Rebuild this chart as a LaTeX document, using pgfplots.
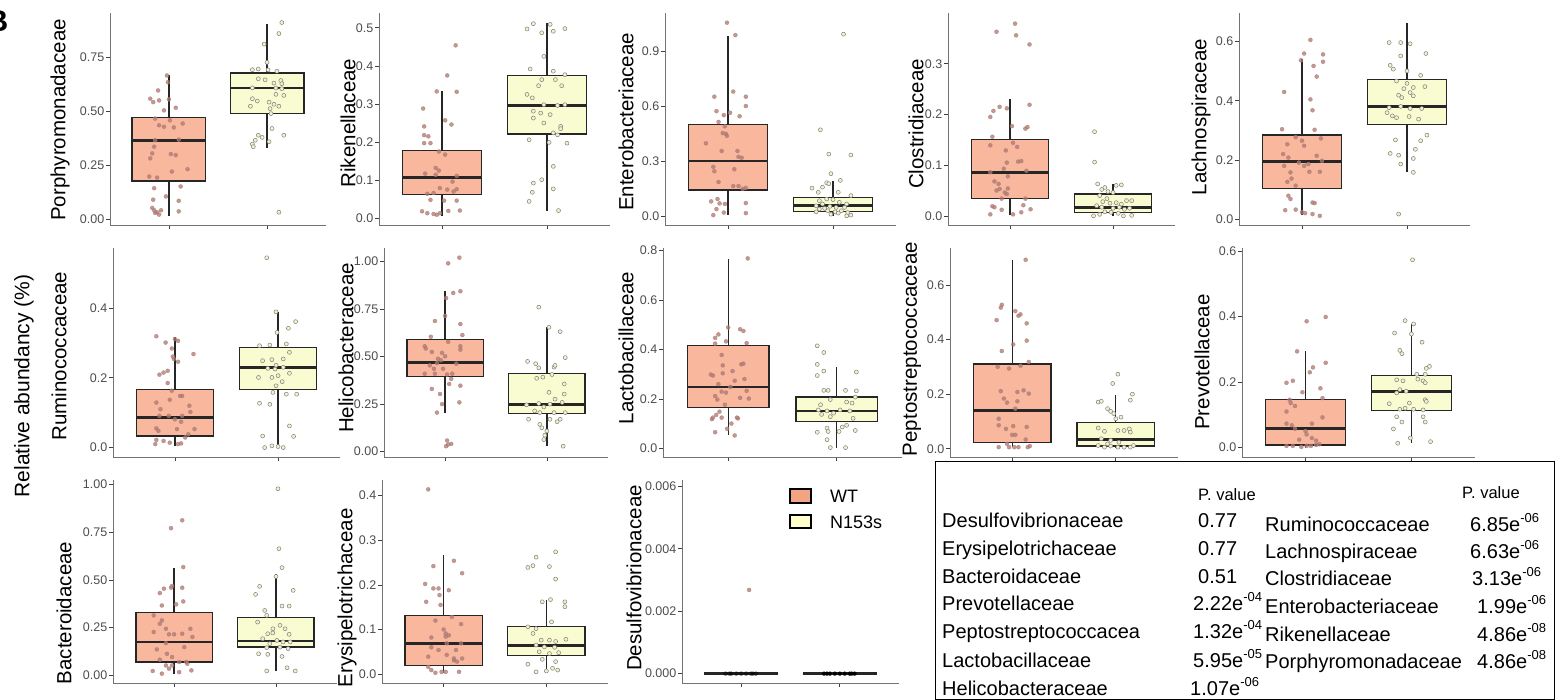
\documentclass[border=0pt]{standalone}
\usepackage{fontspec}
\setmainfont{Liberation Sans}
\usepackage{pgfplots}
\pgfplotsset{compat=1.18}
\usepgfplotslibrary{statistics}
\definecolor{wtbox}{RGB}{249,183,158}
\definecolor{nbox}{RGB}{249,251,208}
\definecolor{wtkey}{RGB}{243,164,133}
\definecolor{nkey}{RGB}{255,255,204}
\definecolor{wtpt}{RGB}{196,110,98}
\definecolor{npt}{RGB}{242,242,205}
\definecolor{ticklab}{RGB}{77,77,77}
\newcommand{\lf}{\fontsize{20.5}{24}\selectfont}
\newcommand{\tf}{\fontsize{20}{23}\selectfont}
\newcommand{\sx}[1]{\raisebox{0.45em}{\fontsize{13}{14}\selectfont #1}}
\pgfplotsset{
  panel/.style={
    scale only axis, anchor=south west,
    axis lines*=left,
    axis line style={black!55, line width=0.7pt},
    xmin=0.4, xmax=2.6,
    xtick={1,2}, xticklabels={,,},
    tick align=outside, major tick length=4pt,
    tick style={black!75, line width=0.7pt},
    scaled y ticks=false,
    /pgf/number format/assume math mode=true,
    yticklabel style={font=\fontsize{12.5}{14}\selectfont, text=ticklab, inner sep=1.5pt},
    clip=false,
    boxplot/draw direction=y,
    boxplot/box extend=0.75,
    boxplot/whisker extend=0,
    boxplot/every median/.style={line width=2.8pt},
  },
  prec/.style={yticklabel={\pgfmathprintnumber[fixed,fixed zerofill,precision=#1]{\tick}}},
  wtb/.style={fill=wtbox, draw=black!85, line width=1.3pt},
  nb/.style={fill=nbox, draw=black!85, line width=1.3pt},
  wtp/.style={only marks, mark=*, mark size=2pt, mark options={fill=wtpt, fill opacity=0.75, draw=black!45, draw opacity=0.8, line width=0.4pt}},
  np/.style={only marks, mark=*, mark size=2pt, mark options={fill=npt, draw=black!50, line width=0.5pt}},
}
\newcommand{\wtbx}[5]{\addplot[wtb, boxplot prepared={draw position=1, lower whisker=#1, lower quartile=#2, median=#3, upper quartile=#4, upper whisker=#5}] coordinates {};}
\newcommand{\nbx}[5]{\addplot[nb, boxplot prepared={draw position=2, lower whisker=#1, lower quartile=#2, median=#3, upper quartile=#4, upper whisker=#5}] coordinates {};}
\begin{document}
\begin{tikzpicture}
\useasboundingbox (0,0) rectangle (1555pt,-700pt);
% ---------------- Row 1
\begin{axis}[panel, at={(110pt,-225pt)}, width=216pt, height=212pt, ymin=-0.025, ymax=0.955, ytick={0,0.25,0.5,0.75}, prec=2]
\wtbx{0.018}{0.179}{0.367}{0.471}{0.670}
\nbx{0.329}{0.490}{0.608}{0.677}{0.906}
\addplot[wtp] coordinates {(0.98,0.666)(0.99,0.635)(0.89,0.597)(0.81,0.559)(0.84,0.543)(0.90,0.551)(1.00,0.556)(1.07,0.517)(0.95,0.505)(0.86,0.467)(1.01,0.459)(0.90,0.436)(0.95,0.429)(1.05,0.426)(1.14,0.444)(0.86,0.367)(1.10,0.370)(0.85,0.337)(0.83,0.306)(0.81,0.283)(1.02,0.303)(1.07,0.298)(1.19,0.233)(1.03,0.222)(0.80,0.199)(0.88,0.194)(1.12,0.153)(0.85,0.145)(1.10,0.087)(0.84,0.092)(0.97,0.107)(0.83,0.054)(0.85,0.043)(0.88,0.034)(0.92,0.043)(0.90,0.023)(1.10,0.038)(0.86,0.031)};
\addplot[np] coordinates {(2.15,0.911)(2.12,0.860)(1.97,0.811)(2.00,0.727)(1.91,0.696)(1.85,0.693)(2.01,0.692)(2.10,0.686)(1.91,0.651)(1.98,0.646)(2.14,0.643)(2.07,0.631)(2.15,0.628)(2.09,0.608)(2.15,0.605)(1.85,0.609)(2.17,0.574)(2.09,0.579)(1.85,0.559)(1.90,0.548)(2.02,0.543)(2.07,0.533)(2.12,0.524)(1.83,0.524)(2.03,0.513)(2.04,0.490)(2.05,0.421)(2.17,0.390)(1.91,0.390)(1.95,0.380)(1.88,0.367)(1.85,0.349)(1.86,0.337)(2.02,0.360)(2.12,0.034)};
\end{axis}
\begin{axis}[panel, at={(379pt,-225pt)}, width=231pt, height=212pt, ymin=-0.018, ymax=0.539, ytick={0,0.1,0.2,0.3,0.4,0.5}, prec=1]
\wtbx{0.006}{0.063}{0.107}{0.178}{0.333}
\nbx{0.018}{0.221}{0.296}{0.375}{0.513}
\addplot[wtp] coordinates {(1.13,0.454)(1.05,0.375)(0.95,0.333)(1.14,0.332)(0.82,0.288)(1.03,0.257)(1.09,0.246)(0.83,0.241)(0.83,0.218)(0.87,0.215)(0.83,0.197)(0.89,0.197)(0.97,0.175)(1.03,0.167)(0.94,0.132)(0.97,0.125)(0.84,0.117)(0.94,0.114)(1.14,0.111)(1.10,0.096)(0.98,0.079)(1.05,0.075)(1.14,0.076)(1.11,0.070)(0.86,0.064)(0.92,0.066)(0.89,0.048)(1.02,0.046)(1.14,0.046)(0.81,0.018)(0.86,0.013)(0.92,0.011)(0.98,0.013)(1.06,0.019)(1.17,0.020)(0.95,0.009)};
\addplot[np] coordinates {(1.81,0.497)(1.87,0.511)(1.95,0.487)(2.03,0.509)(2.06,0.491)(2.17,0.498)(1.97,0.425)(1.84,0.392)(2.06,0.386)(2.17,0.377)(1.95,0.364)(2.08,0.364)(1.92,0.348)(2.14,0.348)(1.81,0.325)(1.86,0.316)(1.97,0.298)(2.10,0.296)(2.17,0.298)(1.87,0.281)(1.94,0.276)(2.03,0.272)(1.87,0.263)(1.97,0.250)(2.13,0.241)(2.13,0.235)(2.06,0.224)(1.83,0.206)(2.02,0.199)(2.19,0.197)(2.10,0.219)(2.06,0.136)(1.95,0.101)(1.87,0.092)(2.06,0.077)(1.86,0.068)(1.83,0.044)(2.11,0.020)};
\end{axis}
\begin{axis}[panel, at={(665pt,-225pt)}, width=231pt, height=212pt, ymin=-0.05, ymax=1.11, ytick={0,0.3,0.6,0.9}, prec=1]
\wtbx{0.004}{0.142}{0.300}{0.499}{0.983}
\nbx{0.000}{0.024}{0.055}{0.100}{0.189}
\addplot[wtp] coordinates {(0.99,1.057)(1.07,0.989)(1.05,0.680)(0.87,0.652)(1.17,0.652)(1.17,0.601)(0.89,0.573)(1.02,0.564)(0.96,0.551)(1.11,0.545)(0.91,0.514)(0.97,0.490)(0.95,0.453)(0.98,0.449)(0.99,0.438)(0.79,0.397)(0.94,0.355)(1.09,0.355)(1.10,0.323)(1.13,0.318)(0.86,0.268)(0.87,0.244)(1.06,0.255)(0.91,0.185)(1.05,0.163)(1.10,0.163)(1.14,0.148)(1.17,0.153)(0.84,0.079)(0.90,0.092)(0.92,0.068)(0.97,0.065)(1.17,0.070)(0.89,0.037)(0.96,0.018)(0.86,0.004)(1.17,0.015)};
\addplot[np] coordinates {(2.10,0.994)(1.88,0.471)(1.96,0.338)(2.17,0.333)(1.98,0.231)(1.94,0.181)(2.07,0.194)(1.90,0.157)(1.80,0.152)(1.96,0.176)(2.05,0.129)(1.86,0.129)(2.17,0.111)(1.87,0.083)(1.94,0.092)(2.00,0.089)(2.06,0.074)(2.13,0.065)(1.84,0.055)(1.90,0.065)(1.97,0.052)(2.03,0.046)(2.11,0.046)(1.87,0.037)(1.95,0.028)(2.02,0.022)(2.08,0.028)(2.14,0.018)(2.17,0.004)(1.84,0.022)(1.98,0.009)(2.05,0.015)(2.13,0.000)(1.92,0.041)};
\end{axis}
\begin{axis}[panel, at={(948pt,-225pt)}, width=227pt, height=212pt, ymin=-0.018, ymax=0.40, ytick={0,0.1,0.2,0.3}, prec=1]
\wtbx{0.001}{0.034}{0.086}{0.150}{0.230}
\nbx{0.000}{0.007}{0.017}{0.043}{0.063}
\addplot[wtp] coordinates {(1.05,0.379)(0.87,0.363)(1.06,0.356)(1.19,0.338)(1.19,0.219)(0.90,0.215)(0.97,0.212)(0.84,0.207)(0.81,0.195)(1.02,0.177)(1.17,0.175)(1.15,0.172)(0.83,0.156)(0.81,0.139)(1.03,0.144)(1.07,0.136)(0.96,0.129)(1.08,0.107)(1.11,0.108)(0.97,0.105)(1.16,0.089)(0.94,0.093)(0.81,0.086)(0.98,0.078)(0.85,0.068)(0.89,0.063)(0.90,0.053)(0.98,0.054)(0.87,0.050)(0.95,0.046)(0.97,0.043)(0.92,0.034)(1.15,0.034)(0.83,0.019)(0.85,0.017)(1.13,0.021)(1.20,0.013)(0.92,0.012)(0.81,0.003)(1.03,0.003)(1.11,0.007)};
\addplot[np] coordinates {(1.82,0.166)(1.82,0.106)(1.85,0.063)(1.92,0.056)(2.03,0.060)(2.08,0.061)(1.89,0.052)(1.95,0.048)(2.00,0.046)(1.87,0.040)(1.94,0.034)(2.13,0.030)(2.18,0.030)(1.90,0.028)(1.97,0.025)(2.03,0.026)(2.08,0.023)(1.84,0.020)(1.89,0.017)(2.00,0.015)(2.06,0.017)(2.11,0.013)(2.16,0.015)(1.92,0.008)(1.98,0.007)(2.05,0.005)(1.81,0.000)(1.87,0.003)(2.10,0.000)(2.18,0.001)};
\end{axis}
\begin{axis}[panel, at={(1239pt,-225pt)}, width=231pt, height=212pt, ymin=-0.02, ymax=0.697, ytick={0,0.2,0.4,0.6}, prec=1]
\wtbx{0.014}{0.104}{0.196}{0.284}{0.540}
\nbx{0.158}{0.321}{0.381}{0.473}{0.662}
\addplot[wtp] coordinates {(1.08,0.606)(1.02,0.560)(1.20,0.557)(1.20,0.532)(0.99,0.537)(1.11,0.518)(1.14,0.482)(0.83,0.430)(1.08,0.405)(1.10,0.368)(0.81,0.304)(1.12,0.302)(0.94,0.277)(1.18,0.273)(1.00,0.265)(0.86,0.253)(1.02,0.248)(0.82,0.220)(1.14,0.214)(0.87,0.208)(1.19,0.197)(0.97,0.191)(0.83,0.180)(1.02,0.180)(1.06,0.186)(1.07,0.160)(1.17,0.160)(0.89,0.158)(0.90,0.137)(0.86,0.126)(0.94,0.113)(0.87,0.079)(0.89,0.068)(1.10,0.056)(1.12,0.054)(0.84,0.030)(0.94,0.032)(1.00,0.023)(1.03,0.020)(1.10,0.017)(1.17,0.011)};
\addplot[np] coordinates {(1.83,0.597)(1.94,0.597)(2.03,0.593)(2.18,0.560)(1.94,0.552)(1.84,0.520)(1.87,0.507)(2.00,0.501)(2.13,0.486)(1.90,0.467)(2.00,0.459)(2.06,0.445)(1.97,0.441)(2.17,0.448)(2.03,0.428)(1.92,0.419)(1.95,0.411)(2.06,0.417)(1.83,0.377)(1.94,0.381)(2.03,0.374)(2.14,0.374)(1.81,0.360)(1.86,0.349)(1.90,0.343)(2.02,0.347)(2.11,0.338)(2.19,0.284)(2.13,0.265)(1.89,0.268)(2.08,0.236)(1.84,0.222)(1.92,0.216)(2.06,0.205)(1.94,0.186)(2.06,0.158)(1.92,0.017)};
\end{axis}
% ---------------- Row 2
\begin{axis}[panel, at={(113pt,-457pt)}, width=227pt, height=209pt, ymin=-0.027, ymax=0.572, ytick={0,0.2,0.4}, prec=1]
\wtbx{0.005}{0.033}{0.086}{0.167}{0.316}
\nbx{0.000}{0.167}{0.230}{0.287}{0.389}
\addplot[wtp] coordinates {(0.82,0.319)(1.00,0.311)(1.03,0.306)(0.91,0.301)(0.97,0.284)(1.18,0.268)(0.98,0.261)(0.99,0.254)(1.03,0.246)(0.85,0.209)(0.89,0.215)(0.93,0.220)(0.93,0.185)(0.97,0.163)(1.05,0.148)(1.07,0.148)(0.95,0.137)(0.82,0.129)(1.14,0.120)(0.86,0.110)(1.15,0.102)(0.85,0.091)(0.94,0.091)(1.07,0.091)(1.00,0.081)(1.06,0.074)(0.82,0.055)(1.02,0.053)(1.19,0.053)(0.84,0.048)(1.13,0.038)(1.10,0.029)(0.82,0.022)(0.89,0.019)(0.95,0.014)(1.03,0.010)(1.06,0.012)(0.81,0.010)};
\addplot[np] coordinates {(1.89,0.544)(1.98,0.389)(2.17,0.361)(2.10,0.342)(1.99,0.330)(1.82,0.292)(1.92,0.294)(2.08,0.297)(2.11,0.273)(1.85,0.249)(1.94,0.252)(2.05,0.254)(1.98,0.236)(1.90,0.227)(1.97,0.225)(2.05,0.230)(2.11,0.213)(1.81,0.201)(1.94,0.201)(2.00,0.206)(2.04,0.189)(1.98,0.177)(1.95,0.158)(2.08,0.153)(2.18,0.153)(1.82,0.127)(1.92,0.124)(2.11,0.062)(1.85,0.033)(2.15,0.032)(1.87,0.000)(1.94,0.005)(2.00,0.003)(2.05,0.000)};
\end{axis}
\begin{axis}[panel, at={(384pt,-457pt)}, width=224pt, height=209pt, ymin=-0.03, ymax=1.072, ytick={0,0.25,0.5,0.75,1}, prec=2]
\wtbx{0.204}{0.396}{0.467}{0.590}{0.844}
\nbx{0.027}{0.199}{0.245}{0.409}{0.654}
\addplot[wtp] coordinates {(1.14,1.021)(1.03,0.991)(1.08,0.835)(1.15,0.844)(1.01,0.808)(1.00,0.714)(0.90,0.687)(1.15,0.671)(0.86,0.604)(1.17,0.613)(1.03,0.577)(0.80,0.554)(0.81,0.542)(1.15,0.554)(1.15,0.536)(0.87,0.524)(0.97,0.519)(1.00,0.501)(0.93,0.488)(0.96,0.480)(0.92,0.465)(0.89,0.435)(1.11,0.462)(0.85,0.453)(0.98,0.435)(0.80,0.409)(0.90,0.409)(1.02,0.405)(1.07,0.409)(1.06,0.382)(1.04,0.355)(1.15,0.346)(0.87,0.329)(0.95,0.302)(1.14,0.258)(0.97,0.249)(0.92,0.204)(1.02,0.057)(1.03,0.036)(1.06,0.039)(1.01,0.027)};
\addplot[np] coordinates {(1.92,0.760)(2.02,0.654)(2.13,0.631)(2.18,0.494)(1.81,0.474)(1.89,0.462)(1.92,0.440)(2.07,0.444)(2.08,0.453)(1.90,0.385)(1.96,0.391)(2.05,0.405)(2.17,0.355)(2.02,0.311)(2.08,0.275)(2.17,0.302)(2.15,0.258)(1.80,0.245)(1.92,0.252)(1.97,0.234)(2.03,0.249)(1.88,0.213)(1.93,0.204)(2.07,0.204)(2.18,0.204)(1.82,0.169)(2.03,0.169)(2.13,0.169)(2.10,0.156)(1.93,0.142)(1.95,0.124)(2.00,0.107)(1.98,0.085)(1.97,0.062)(2.16,0.027)};
\end{axis}
\begin{axis}[panel, at={(663pt,-457pt)}, width=239pt, height=209pt, ymin=-0.034, ymax=0.81, ytick={0,0.2,0.4,0.6,0.8}, prec=1]
\wtbx{0.055}{0.167}{0.249}{0.417}{0.765}
\nbx{0.004}{0.108}{0.152}{0.208}{0.329}
\addplot[wtp] coordinates {(1.18,0.768)(1.00,0.489)(1.11,0.482)(1.14,0.475)(0.91,0.461)(0.88,0.447)(1.17,0.426)(0.98,0.433)(0.88,0.424)(0.94,0.378)(1.14,0.343)(0.95,0.336)(1.12,0.340)(1.04,0.313)(0.95,0.304)(0.84,0.299)(0.86,0.295)(1.06,0.274)(0.91,0.260)(1.15,0.281)(1.02,0.249)(0.94,0.230)(0.98,0.226)(1.17,0.233)(0.88,0.212)(0.90,0.198)(1.11,0.205)(1.19,0.202)(0.97,0.177)(0.92,0.149)(0.89,0.136)(0.86,0.125)(0.85,0.119)(0.94,0.125)(1.08,0.125)(1.09,0.122)(1.03,0.101)(0.99,0.080)(0.88,0.066)(1.06,0.053)};
\addplot[np] coordinates {(1.82,0.415)(1.88,0.388)(1.82,0.340)(1.88,0.313)(1.82,0.295)(2.18,0.309)(1.88,0.235)(1.92,0.235)(2.08,0.235)(2.18,0.233)(1.94,0.198)(2.09,0.188)(2.17,0.208)(2.14,0.184)(1.85,0.177)(1.83,0.156)(1.91,0.152)(1.97,0.143)(2.03,0.156)(2.12,0.152)(1.86,0.138)(1.94,0.129)(2.15,0.122)(2.09,0.094)(2.05,0.087)(1.91,0.083)(2.17,0.073)(1.82,0.066)(1.92,0.069)(2.02,0.069)(1.91,0.036)(1.94,0.004)(2.08,0.004)};
\end{axis}
\begin{axis}[panel, at={(950pt,-457pt)}, width=228pt, height=209pt, ymin=-0.03, ymax=0.735, ytick={0,0.2,0.4,0.6}, prec=1]
\wtbx{0.006}{0.022}{0.141}{0.310}{0.692}
\nbx{0.002}{0.010}{0.034}{0.096}{0.196}
\addplot[wtp] coordinates {(1.13,0.692)(0.90,0.527)(0.89,0.517)(1.03,0.504)(1.06,0.487)(1.08,0.492)(0.85,0.471)(1.14,0.459)(1.01,0.382)(1.14,0.396)(0.90,0.358)(1.16,0.318)(0.86,0.300)(0.97,0.294)(1.08,0.304)(0.89,0.211)(1.11,0.214)(1.05,0.208)(1.16,0.202)(0.92,0.184)(0.95,0.169)(1.05,0.174)(1.03,0.147)(0.87,0.110)(0.87,0.086)(0.94,0.073)(1.01,0.083)(1.14,0.080)(1.03,0.051)(1.00,0.051)(1.13,0.034)(0.95,0.018)(0.87,0.006)(0.97,0.006)(1.02,0.006)(1.06,0.006)(1.15,0.006)(1.17,0.010)};
\addplot[np] coordinates {(2.02,0.273)(1.97,0.239)(2.16,0.200)(2.14,0.178)(1.83,0.171)(1.86,0.174)(1.92,0.147)(1.95,0.137)(1.98,0.129)(2.00,0.110)(2.05,0.116)(1.83,0.076)(1.89,0.064)(2.02,0.067)(2.08,0.067)(2.13,0.073)(2.14,0.061)(1.86,0.037)(1.95,0.031)(2.03,0.024)(1.83,0.012)(1.89,0.006)(1.95,0.010)(2.02,0.006)(2.08,0.006)(2.14,0.006)(2.17,0.012)(1.92,0.018)};
\end{axis}
\begin{axis}[panel, at={(1242pt,-457pt)}, width=233pt, height=209pt, ymin=-0.029, ymax=0.61, ytick={0,0.2,0.4,0.6}, prec=1]
\wtbx{0.000}{0.008}{0.057}{0.146}{0.294}
\nbx{0.013}{0.113}{0.172}{0.221}{0.378}
\addplot[wtp] coordinates {(1.19,0.399)(1.01,0.386)(0.92,0.294)(1.07,0.245)(1.19,0.259)(1.04,0.230)(0.88,0.204)(0.82,0.198)(1.14,0.181)(0.97,0.169)(1.16,0.151)(0.85,0.146)(0.86,0.136)(0.90,0.127)(0.82,0.110)(1.16,0.092)(0.82,0.073)(0.87,0.068)(1.06,0.073)(0.90,0.057)(1.00,0.050)(1.01,0.040)(1.06,0.029)(0.94,0.024)(1.10,0.021)(0.82,0.005)(0.88,0.005)(0.96,0.002)(1.01,0.005)(1.05,0.005)(1.10,0.008)(1.13,0.010)};
\addplot[np] coordinates {(2.01,0.574)(1.94,0.388)(2.02,0.378)(1.84,0.350)(2.10,0.322)(2.00,0.347)(1.89,0.297)(1.91,0.287)(2.17,0.248)(2.14,0.242)(2.05,0.224)(2.13,0.224)(1.86,0.207)(1.92,0.204)(2.06,0.209)(2.11,0.204)(2.13,0.198)(1.89,0.177)(1.95,0.172)(1.86,0.167)(2.13,0.146)(2.14,0.141)(1.79,0.134)(1.98,0.136)(1.89,0.117)(2.02,0.117)(1.94,0.120)(2.11,0.115)(1.86,0.094)(1.91,0.078)(2.11,0.094)(2.13,0.078)(1.83,0.057)(1.99,0.029)(1.87,0.013)(2.18,0.018)};
\end{axis}
% ---------------- Row 3
\begin{axis}[panel, at={(113pt,-683pt)}, width=224pt, height=203pt, ymin=-0.04, ymax=1.023, ytick={0,0.25,0.5,0.75,1}, prec=2]
\wtbx{0.009}{0.070}{0.175}{0.328}{0.564}
\nbx{0.023}{0.148}{0.180}{0.302}{0.529}
\addplot[wtp] coordinates {(1.08,0.812)(0.97,0.771)(1.09,0.567)(0.98,0.468)(0.97,0.459)(0.90,0.454)(1.08,0.459)(0.86,0.431)(1.02,0.372)(0.88,0.366)(1.09,0.387)(0.80,0.314)(0.88,0.288)(0.86,0.270)(0.92,0.244)(1.16,0.244)(0.80,0.227)(0.95,0.215)(1.00,0.215)(1.08,0.218)(1.18,0.201)(0.92,0.169)(1.10,0.148)(0.83,0.136)(0.93,0.113)(0.98,0.096)(0.86,0.082)(1.05,0.070)(1.12,0.070)(0.98,0.052)(1.17,0.026)(0.79,0.023)(0.88,0.009)(1.05,0.017)(0.95,0.035)(0.92,0.052)(1.13,0.061)};
\addplot[np] coordinates {(2.02,0.977)(2.03,0.663)(2.06,0.564)(2.00,0.518)(1.84,0.466)(1.80,0.424)(2.17,0.445)(1.89,0.340)(2.06,0.363)(2.13,0.363)(1.91,0.314)(1.82,0.279)(2.04,0.262)(1.97,0.244)(2.09,0.244)(1.92,0.218)(1.97,0.222)(2.13,0.215)(1.87,0.192)(2.01,0.183)(2.07,0.175)(2.14,0.175)(1.94,0.166)(1.91,0.145)(2.04,0.148)(2.12,0.140)(1.83,0.113)(1.92,0.110)(2.06,0.099)(1.91,0.023)(2.11,0.040)(2.19,0.023)};
\end{axis}
\begin{axis}[panel, at={(382pt,-683pt)}, width=226pt, height=203pt, ymin=-0.02, ymax=0.435, ytick={0,0.1,0.2,0.3,0.4}, prec=1]
\wtbx{0.0015}{0.020}{0.069}{0.132}{0.268}
\nbx{0.005}{0.041}{0.064}{0.106}{0.166}
\addplot[wtp] coordinates {(0.85,0.414)(0.90,0.242)(1.10,0.254)(1.18,0.226)(0.82,0.202)(0.90,0.192)(0.95,0.192)(1.05,0.188)(0.83,0.162)(0.97,0.155)(0.96,0.177)(1.02,0.091)(1.05,0.087)(0.88,0.082)(1.17,0.112)(1.02,0.084)(1.03,0.069)(1.17,0.069)(0.95,0.054)(1.12,0.054)(0.85,0.039)(1.03,0.043)(1.10,0.035)(1.18,0.035)(1.13,0.028)(1.10,0.031)(0.88,0.009)(0.92,0.003)(1.02,0.005)(1.15,0.005)(0.98,0.005)(0.85,0.016)(0.92,0.120)(1.00,0.100)(0.88,0.060)(1.08,0.128)};
\addplot[np] coordinates {(1.90,0.262)(2.09,0.274)(1.82,0.239)(1.87,0.243)(2.03,0.241)(2.09,0.213)(1.96,0.162)(2.04,0.167)(2.18,0.162)(2.18,0.151)(2.05,0.117)(1.82,0.106)(1.90,0.102)(1.87,0.091)(1.95,0.076)(2.03,0.076)(2.09,0.073)(2.19,0.078)(1.90,0.065)(1.98,0.061)(2.08,0.060)(1.93,0.050)(2.03,0.046)(2.12,0.048)(1.96,0.033)(2.09,0.028)(1.82,0.022)(2.06,0.013)(2.11,0.009)(1.90,0.005)(2.00,0.007)};
\end{axis}
\begin{axis}[panel, at={(682pt,-683pt)}, width=217pt, height=203pt, ymin=-0.0003, ymax=0.0062, ytick={0,0.002,0.004,0.006}, prec=3]
\addplot[wtp, mark options={fill opacity=0.4, draw opacity=0.4}] coordinates {(0.84,0)(0.90,0)(0.95,0)(1.00,0)(1.05,0)(1.10,0)(1.15,0)(0.88,0)(1.12,0)};
\addplot[np, mark options={draw opacity=0.4}] coordinates {(1.84,0)(1.90,0)(1.95,0)(2.00,0)(2.05,0)(2.10,0)(2.15,0)(1.87,0)(2.12,0)};
\wtbx{0}{0}{0}{0}{0}
\nbx{0}{0}{0}{0}{0}
\addplot[wtp] coordinates {(1.08,0.00268)};
\end{axis}
% ---------------- y labels
\node[rotate=90, font=\lf] at (60pt,-120pt) {Porphyromonadaceae};
\node[rotate=90, font=\lf] at (348pt,-123pt) {Rikenellaceae};
\node[rotate=90, font=\lf] at (626pt,-122pt) {Enterobacteriaceae};
\node[rotate=90, font=\lf] at (916pt,-124pt) {Clostridiaceae};
\node[rotate=90, font=\lf] at (1201pt,-117pt) {Lachnospiraceae};
\node[rotate=90, font=\lf] at (59pt,-356pt) {Ruminococcaceae};
\node[rotate=90, font=\lf] at (346pt,-348pt) {Helicobacteraceae};
\node[rotate=90, font=\lf] at (626pt,-348pt) {Lactobacillaceae};
\node[rotate=90, font=\lf] at (912pt,-349pt) {Peptostreptococcaceae};
\node[rotate=90, font=\lf] at (1202pt,-362pt) {Prevotellaceae};
\node[rotate=90, font=\lf] at (64pt,-613pt) {Bacteroidaceae};
\node[rotate=90, font=\lf] at (347pt,-598pt) {Erysipelotrichaceae};
\node[rotate=90, font=\lf] at (634pt,-578pt) {Desulfovibrionaceae};
\node[rotate=90, font=\fontsize{21}{24}\selectfont] at (24pt,-386pt) {Relative abundancy (\%)};
\node[anchor=base east, inner sep=0pt] at (8.5pt,-32pt) {\fontsize{30}{32}\selectfont\bfseries B};
% ---------------- legend
\draw[line width=1.2pt, fill=wtkey] (790pt,-489pt) rectangle (811pt,-503pt);
\draw[line width=1.2pt, fill=nkey] (790pt,-515pt) rectangle (811pt,-528pt);
\node[anchor=base west, inner sep=0pt] at (830pt,-502.5pt) {\fontsize{18}{20}\selectfont WT};
\node[anchor=base west, inner sep=0pt] at (830pt,-528.5pt) {\fontsize{18}{20}\selectfont N153s};
% ---------------- table
\draw[line width=1pt] (935.5pt,-461.5pt) rectangle (1554.5pt,-699.5pt);
\node[anchor=base west, inner sep=0pt] at (1198pt,-500pt) {\fontsize{16.5}{18}\selectfont P. value};
\node[anchor=base west, inner sep=0pt] at (1462pt,-498pt) {\fontsize{16.5}{18}\selectfont P. value};
\node[anchor=base west, inner sep=0pt] at (942pt,-527pt) {\tf Desulfovibrionaceae};
\node[anchor=base west, inner sep=0pt] at (942pt,-555pt) {\tf Erysipelotrichaceae};
\node[anchor=base west, inner sep=0pt] at (942pt,-583pt) {\tf Bacteroidaceae};
\node[anchor=base west, inner sep=0pt] at (942pt,-610pt) {\tf Prevotellaceae};
\node[anchor=base west, inner sep=0pt] at (942pt,-638pt) {\tf Peptostreptococcacea};
\node[anchor=base west, inner sep=0pt] at (942pt,-667pt) {\tf Lactobacillaceae};
\node[anchor=base west, inner sep=0pt] at (942pt,-695pt) {\tf Helicobacteraceae};
\node[anchor=base west, inner sep=0pt] at (1198pt,-527pt) {\tf 0.77};
\node[anchor=base west, inner sep=0pt] at (1198pt,-555pt) {\tf 0.77};
\node[anchor=base west, inner sep=0pt] at (1198pt,-583pt) {\tf 0.51};
\node[anchor=base west, inner sep=0pt] at (1193pt,-610pt) {\tf 2.22e\sx{-04}};
\node[anchor=base west, inner sep=0pt] at (1193pt,-638pt) {\tf 1.32e\sx{-04}};
\node[anchor=base west, inner sep=0pt] at (1193pt,-667pt) {\tf 5.95e\sx{-05}};
\node[anchor=base west, inner sep=0pt] at (1190pt,-695pt) {\tf 1.07e\sx{-06}};
\node[anchor=base west, inner sep=0pt] at (1265pt,-531pt) {\tf Ruminococcaceae};
\node[anchor=base west, inner sep=0pt] at (1265pt,-558pt) {\tf Lachnospiraceae};
\node[anchor=base west, inner sep=0pt] at (1265pt,-585pt) {\tf Clostridiaceae};
\node[anchor=base west, inner sep=0pt] at (1265pt,-613pt) {\tf Enterobacteriaceae};
\node[anchor=base west, inner sep=0pt] at (1265pt,-641pt) {\tf Rikenellaceae};
\node[anchor=base west, inner sep=0pt] at (1265pt,-668pt) {\tf Porphyromonadaceae};
\node[anchor=base west, inner sep=0pt] at (1470pt,-531pt) {\tf 6.85e\sx{-06}};
\node[anchor=base west, inner sep=0pt] at (1470pt,-558pt) {\tf 6.63e\sx{-06}};
\node[anchor=base west, inner sep=0pt] at (1472pt,-585pt) {\tf 3.13e\sx{-06}};
\node[anchor=base west, inner sep=0pt] at (1477pt,-613pt) {\tf 1.99e\sx{-06}};
\node[anchor=base west, inner sep=0pt] at (1477pt,-641pt) {\tf 4.86e\sx{-08}};
\node[anchor=base west, inner sep=0pt] at (1477pt,-668pt) {\tf 4.86e\sx{-08}};
\end{tikzpicture}
\end{document}
